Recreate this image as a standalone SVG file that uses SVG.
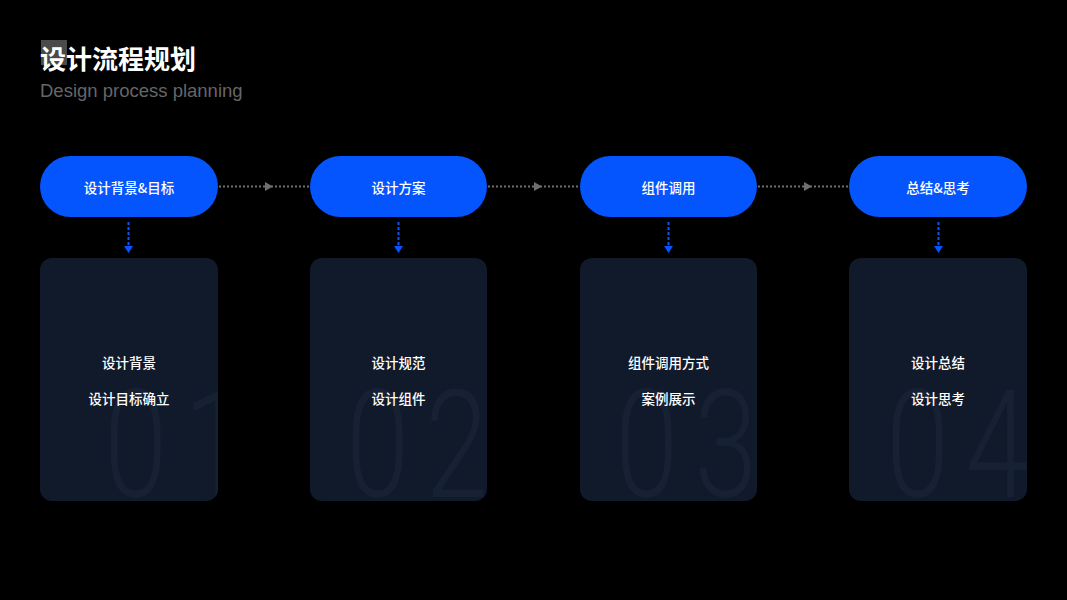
<svg xmlns="http://www.w3.org/2000/svg" width="1067" height="600" viewBox="0 0 1067 600">
  <defs>
    <style>
      .pill{fill:#0555FF}
      .card{fill:#111A2B}
      .num{font-family:Roboto,"Liberation Sans",sans-serif;font-weight:300;font-size:150px;fill:#172134;letter-spacing:21px}
      .pt{font-family:"Noto Sans CJK SC","Noto Sans",sans-serif;font-size:13.5px;font-weight:500;fill:#FFFFFF;text-anchor:middle;dominant-baseline:central}
      .ct{font-family:"Noto Sans CJK SC","Noto Sans",sans-serif;font-size:13.5px;font-weight:500;fill:#FFFFFF;text-anchor:middle;dominant-baseline:central}
      .hl{stroke:#6E6E6E;stroke-width:2;stroke-dasharray:2 2;fill:none}
      .vl{stroke:#0555FF;stroke-width:2;stroke-dasharray:3 2;fill:none}
    </style>
    <clipPath id="c1"><rect x="40" y="258" width="178" height="243" rx="12"/></clipPath>
    <clipPath id="c2"><rect x="310" y="258" width="177" height="243" rx="12"/></clipPath>
    <clipPath id="c3"><rect x="580" y="258" width="177" height="243" rx="12"/></clipPath>
    <clipPath id="c4"><rect x="849" y="258" width="178" height="243" rx="12"/></clipPath>
  </defs>
  <rect width="1067" height="600" fill="#000000"/>

  <g id="title">
    <rect x="41" y="40" width="26" height="25" fill="#4A4A4A"/>
    <text x="40" y="69" font-family="'Noto Sans CJK SC',sans-serif" font-size="26" font-weight="700" fill="#FFFFFF">设计流程规划</text>
    <text x="40" y="97" font-family="'Liberation Sans',Arial,sans-serif" font-size="18.5" fill="#666666">Design process planning</text>
  </g>

  <g id="connectors">
    <line class="hl" x1="219" y1="186.5" x2="310" y2="186.5"/>
    <polygon points="265,182 273,186.5 265,191" fill="#6E6E6E"/>
    <line class="hl" x1="488" y1="186.5" x2="580" y2="186.5"/>
    <polygon points="534,182 542,186.5 534,191" fill="#6E6E6E"/>
    <line class="hl" x1="758" y1="186.5" x2="849" y2="186.5"/>
    <polygon points="804,182 812,186.5 804,191" fill="#6E6E6E"/>
    <line class="vl" x1="128.5" y1="222" x2="128.5" y2="246"/>
    <polygon points="124,246 133,246 128.5,253" fill="#0555FF"/>
    <line class="vl" x1="398.5" y1="222" x2="398.5" y2="246"/>
    <polygon points="394,246 403,246 398.5,253" fill="#0555FF"/>
    <line class="vl" x1="668.5" y1="222" x2="668.5" y2="246"/>
    <polygon points="664,246 673,246 668.5,253" fill="#0555FF"/>
    <line class="vl" x1="938.5" y1="222" x2="938.5" y2="246"/>
    <polygon points="934,246 943,246 938.5,253" fill="#0555FF"/>
  </g>

  <g id="step1">
    <rect class="pill" x="40" y="156" width="178" height="61" rx="30.5"/>
    <text class="pt" x="129" y="187">设计背景&amp;目标</text>
  </g>
  <g id="step2">
    <rect class="pill" x="310" y="156" width="177" height="61" rx="30.5"/>
    <text class="pt" x="398.5" y="187">设计方案</text>
  </g>
  <g id="step3">
    <rect class="pill" x="580" y="156" width="177" height="61" rx="30.5"/>
    <text class="pt" x="668.5" y="187">组件调用</text>
  </g>
  <g id="step4">
    <rect class="pill" x="849" y="156" width="178" height="61" rx="30.5"/>
    <text class="pt" x="938" y="187">总结&amp;思考</text>
  </g>

  <g id="card1">
    <rect class="card" x="40" y="258" width="178" height="243" rx="12"/>
    <g clip-path="url(#c1)"><text class="num" transform="translate(104,497) scale(0.76,1)">01</text></g>
    <text class="ct" x="129" y="362">设计背景</text>
    <text class="ct" x="129" y="398">设计目标确立</text>
  </g>
  <g id="card2">
    <rect class="card" x="310" y="258" width="177" height="243" rx="12"/>
    <g clip-path="url(#c2)"><text class="num" transform="translate(346,497) scale(0.76,1)">02</text></g>
    <text class="ct" x="398.5" y="362">设计规范</text>
    <text class="ct" x="398.5" y="398">设计组件</text>
  </g>
  <g id="card3">
    <rect class="card" x="580" y="258" width="177" height="243" rx="12"/>
    <g clip-path="url(#c3)"><text class="num" transform="translate(615,497) scale(0.76,1)">03</text></g>
    <text class="ct" x="668.5" y="362">组件调用方式</text>
    <text class="ct" x="668.5" y="398">案例展示</text>
  </g>
  <g id="card4">
    <rect class="card" x="849" y="258" width="178" height="243" rx="12"/>
    <g clip-path="url(#c4)"><text class="num" transform="translate(886,497) scale(0.76,1)">04</text></g>
    <text class="ct" x="938" y="362">设计总结</text>
    <text class="ct" x="938" y="398">设计思考</text>
  </g>
</svg>
